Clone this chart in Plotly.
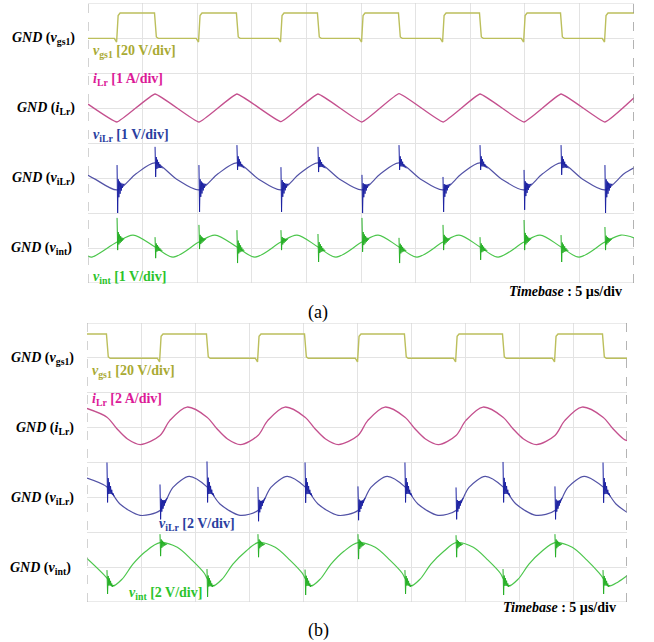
import numpy as np
import plotly.graph_objects as go

# ---------------- panel (a): 1 A/div, 1 V/div ----------------
A_RISE = [2.66, 10.16, 17.67, 25.09, 32.51, 39.93, 47.34]          # v_gs1 rising edges (µs)
A_FALL = [6.14, 13.64, 21.06, 28.48, 35.90, 43.32]                 # v_gs1 falling edges (µs)
A_VGS_HIGH, A_VGS_LOW, A_VGS_DIP = 14.3, -0.2, -2.3                # V

A_ILR_T = [0.0, 2.66, 6.14, 10.16, 13.64, 17.67, 21.06, 25.09, 28.48, 32.51, 35.90,
           39.93, 43.32, 47.34, 50.0]
A_ILR_V = [0.11, -0.40, 0.40, -0.40, 0.40, -0.39, 0.40, -0.40, 0.41, -0.40, 0.40,
           -0.40, 0.40, -0.40, 0.29]                                # A

A_VLR_T = [0.0, 0.69, 2.66, 4.40, 6.14, 8.15, 10.16, 11.90, 13.64, 15.66, 17.67, 19.37,
           21.06, 23.08, 25.09, 26.79, 28.48, 30.50, 32.51, 34.21, 35.90, 37.92, 39.93,
           41.63, 43.32, 45.33, 47.34, 49.08, 50.0]
A_VLR_V = [0.08, -0.04, -0.34, 0.12, 0.43, -0.04, -0.34, 0.12, 0.43, -0.04, -0.34, 0.12,
           0.43, -0.04, -0.34, 0.12, 0.43, -0.04, -0.34, 0.12, 0.43, -0.04, -0.34,
           0.12, 0.43, -0.04, -0.34, 0.12, 0.29]                    # V

A_VINT_T = [0.0, 0.36, 2.66, 4.13, 6.14, 7.79, 10.16, 11.63, 13.64, 15.29, 17.67, 19.14,
            21.06, 22.71, 25.09, 26.56, 28.48, 30.13, 32.51, 33.98, 35.90, 37.55, 39.93,
            41.40, 43.32, 44.97, 47.34, 48.81, 50.0]
A_VINT_V = [-0.23, -0.26, 0.17, 0.37, 0.03, -0.26, 0.17, 0.37, 0.03, -0.26, 0.17, 0.37,
            0.03, -0.26, 0.17, 0.37, 0.03, -0.26, 0.17, 0.37, 0.03, -0.26, 0.17,
            0.37, 0.03, -0.26, 0.17, 0.37, 0.29]                    # V

# switching spikes: peak / trough of each spike (V)
A_VLR_SPK_RISE_TOP = [0.37, 0.37, 0.31, 0.09, 0.03, 0.23, 0.37]
A_VLR_SPK_RISE_BOT = [-1.00, -0.97, -0.97, -1.00, -0.97, -0.91, -1.00]
A_VLR_SPK_FALL_TOP = [0.89, 0.94, 0.89, 0.94, 0.94, 0.94]
A_VLR_SPK_FALL_BOT = [0.03, 0.23, 0.17, 0.23, 0.23, 0.09]
A_VINT_SPK_RISE_TOP = [0.86, 0.66, 0.51, 0.86, 0.66, 0.80, 0.60]
A_VINT_SPK_RISE_BOT = [-0.06, -0.03, -0.06, -0.11, -0.06, -0.06, -0.06]
A_VINT_SPK_FALL_TOP = [0.31, 0.51, 0.40, 0.29, 0.31, 0.37]
A_VINT_SPK_FALL_BOT = [-0.29, -0.43, -0.40, -0.43, -0.34, -0.40]

# ---------------- panel (b): 2 A/div, 2 V/div ----------------
B_RISE = [6.76, 15.83, 25.09, 34.17, 43.33]
B_FALL = [1.85, 11.11, 20.19, 29.44, 38.52, 47.78]
B_VGS_HIGH, B_VGS_LOW, B_VGS_DIP = 13.7, -0.2, -2.3

B_ILR_T = [0.0, 1.85, 2.75, 3.75, 4.95, 6.76, 7.66, 9.26, 11.11, 12.01, 13.01, 14.21,
           15.83, 16.73, 18.33, 20.19, 21.09, 22.09, 23.29, 25.09, 25.99, 27.59, 29.44,
           30.34, 31.34, 32.54, 34.17, 35.07, 36.67, 38.52, 39.42, 40.42, 41.62, 43.33,
           44.23, 45.83, 47.78, 48.68, 49.68, 50.0]
B_ILR_V = [1.10, 0.60, -0.05, -0.65, -0.97, -0.45, 0.40, 1.18, 0.60, -0.05, -0.65, -0.97,
           -0.45, 0.40, 1.18, 0.60, -0.05, -0.65, -0.97, -0.45, 0.40, 1.18, 0.60,
           -0.05, -0.65, -0.97, -0.45, 0.40, 1.18, 0.60, -0.05, -0.65, -0.97, -0.45,
           0.40, 1.18, 0.60, -0.05, -0.65, -0.75]

B_VLR_T = [0.0, 1.85, 3.05, 4.91, 6.76, 7.96, 9.46, 11.11, 12.31, 14.17, 15.83, 17.03,
           18.53, 20.19, 21.39, 23.25, 25.09, 26.29, 27.79, 29.44, 30.64, 32.50, 34.17,
           35.37, 36.87, 38.52, 39.72, 41.58, 43.33, 44.53, 46.03, 47.78, 48.98, 50.0]
B_VLR_V = [1.10, 0.60, -0.38, -1.03, -0.75, 0.57, 1.20, 0.60, -0.38, -1.03, -0.75, 0.57,
           1.20, 0.60, -0.38, -1.03, -0.75, 0.57, 1.20, 0.60, -0.38, -1.03, -0.75,
           0.57, 1.20, 0.60, -0.38, -1.03, -0.75, 0.57, 1.20, 0.60, -0.38, -0.86]

B_VINT_T = [0.0, 1.85, 2.35, 3.25, 4.25, 5.45, 6.76, 8.36, 9.72, 10.86, 11.11, 11.61,
            12.51, 13.51, 14.71, 15.83, 17.43, 18.79, 19.93, 20.19, 20.69, 21.59, 22.59,
            23.79, 25.09, 26.69, 28.05, 29.19, 29.44, 29.94, 30.84, 31.84, 33.04, 34.17,
            35.77, 37.13, 38.27, 38.52, 39.02, 39.92, 40.92, 42.12, 43.33, 44.93, 46.29,
            47.43, 47.78, 48.28, 49.18, 50.0]
B_VINT_V = [0.50, -0.63, -1.09, -0.69, 0.17, 0.91, 1.40, 1.14, 0.40, -0.35, -0.63, -1.09,
            -0.69, 0.17, 0.91, 1.40, 1.14, 0.40, -0.35, -0.63, -1.09, -0.69, 0.17,
            0.91, 1.40, 1.14, 0.40, -0.35, -0.63, -1.09, -0.69, 0.17, 0.91, 1.40,
            1.14, 0.40, -0.35, -0.63, -1.09, -0.69, 0.17, 0.91, 1.40, 1.14, 0.40,
            -0.35, -0.63, -1.09, -0.85, -0.50]

B_VLR_SPK_RISE_TOP = [0.74, 0.60, 0.63, 0.57, 0.63]
B_VLR_SPK_RISE_BOT = [-1.26, -1.37, -1.31, -1.26, -1.26]
B_VLR_SPK_FALL_TOP = [2.00, 2.06, 2.00, 2.00, 2.03, 2.00]
B_VLR_SPK_FALL_BOT = [-0.29, -0.29, -0.31, -0.29, -0.29, -0.31]
B_VINT_SPK_RISE_TOP = [1.89, 1.89, 1.89, 1.83, 1.89]
B_VINT_SPK_RISE_BOT = [0.63, 0.57, 0.46, 0.57, 0.57]
B_VINT_SPK_FALL_TOP = [-0.17, -0.11, -0.14, -0.17, -0.11, -0.17]
B_VINT_SPK_FALL_BOT = [-1.54, -1.71, -1.60, -1.54, -1.60, -1.54]

# channel scale (units/div) and ground position (div) on the 8-div screen
A_SCALE = {"vgs": 20, "ilr": 1, "vlr": 1, "vint": 1}
B_SCALE = {"vgs": 20, "ilr": 2, "vlr": 2, "vint": 2}
GND_DIV = {"vgs": 7, "ilr": 5, "vlr": 3, "vint": 1}

# ringing after a switching spike, relative to spike excursion
RING = [1.0, -1.0, 0.4, -0.36, 0.28, -0.25, 0.19, -0.16, 0.11, -0.09, 0.05, -0.03, 0.0]
RING_STEP = 0.055  # µs

FONT = "Liberation Serif, Times New Roman, serif"
C_VGS_LINE, C_VGS_TXT = "#bcbf5c", "#a9aa33"
C_ILR_LINE, C_ILR_TXT = "#c4508e", "#dc1a98"
C_VLR_LINE, C_VLR_SPK, C_VLR_TXT = "#5252a6", "#1c22a2", "#2a40a0"
C_VINT_LINE, C_VINT_SPK, C_VINT_TXT = "#4cc64c", "#26b026", "#2cc42c"


def gate_wave(rises, falls, high, low, dip, start_high):
    ev = sorted([(t, 1) for t in rises] + [(t, 0) for t in falls])
    xs, ys = [0.0], [high if start_high else low]
    level = ys[0]
    for t, up in ev:
        if up:
            xs += [t - 0.25, t - 0.04, t + 0.1, t + 0.28]
            ys += [low, dip, high * 0.9, high]
            level = high
        else:
            xs += [t - 0.05, t + 0.12, t + 0.3]
            ys += [high, low + 0.8, low]
            level = low
    xs.append(50.0)
    ys.append(level)
    return xs, ys


def spikes(times, tops, bots, kt, kv):
    xs, ys = [], []
    for t, top, bot in zip(times, tops, bots):
        for i, f in enumerate(RING):
            tt = t + i * RING_STEP
            base = float(np.interp(t if i < 2 else tt, kt, kv))
            v = base + f * ((top - base) if f > 0 else (base - bot))
            xs.append(tt)
            ys.append(v)
        xs.append(None)
        ys.append(None)
    return xs, ys


def to_screen(vals, ch, scale):
    return [None if v is None else GND_DIV[ch] + v / scale[ch] for v in vals]


fig = go.Figure()


def add_panel(xa, ya, rises, falls, gate, ilr, vlr, vint, spk, scale, ilr_smooth):
    gx, gy = gate_wave(rises, falls, *gate)
    fig.add_trace(go.Scatter(x=gx, y=to_screen(gy, "vgs", scale), mode="lines",
                             line=dict(color=C_VGS_LINE, width=1.4), xaxis=xa, yaxis=ya))
    fig.add_trace(go.Scatter(x=ilr[0], y=to_screen(ilr[1], "ilr", scale), mode="lines",
                             line=dict(color=C_ILR_LINE, width=1.3, shape="spline", smoothing=ilr_smooth),
                             xaxis=xa, yaxis=ya))
    fig.add_trace(go.Scatter(x=vlr[0], y=to_screen(vlr[1], "vlr", scale), mode="lines",
                             line=dict(color=C_VLR_LINE, width=1.2, shape="spline", smoothing=0.8),
                             xaxis=xa, yaxis=ya))
    fig.add_trace(go.Scatter(x=vint[0], y=to_screen(vint[1], "vint", scale), mode="lines",
                             line=dict(color=C_VINT_LINE, width=1.2, shape="spline", smoothing=0.9),
                             xaxis=xa, yaxis=ya))
    (vr_t, vr_b, vf_t, vf_b, ir_t, ir_b, if_t, if_b) = spk
    for times, tops, bots, knots, ch, col in [
        (rises, vr_t, vr_b, vlr, "vlr", C_VLR_SPK), (falls, vf_t, vf_b, vlr, "vlr", C_VLR_SPK),
        (rises, ir_t, ir_b, vint, "vint", C_VINT_SPK), (falls, if_t, if_b, vint, "vint", C_VINT_SPK)]:
        sx, sy = spikes(times, tops, bots, knots[0], knots[1])
        fig.add_trace(go.Scatter(x=sx, y=to_screen(sy, ch, scale), mode="lines",
                                 line=dict(color=col, width=1.0), connectgaps=False,
                                 xaxis=xa, yaxis=ya))


add_panel("x", "y", A_RISE, A_FALL, (A_VGS_HIGH, A_VGS_LOW, A_VGS_DIP, False),
          (A_ILR_T, A_ILR_V), (A_VLR_T, A_VLR_V), (A_VINT_T, A_VINT_V),
          (A_VLR_SPK_RISE_TOP, A_VLR_SPK_RISE_BOT, A_VLR_SPK_FALL_TOP, A_VLR_SPK_FALL_BOT,
           A_VINT_SPK_RISE_TOP, A_VINT_SPK_RISE_BOT, A_VINT_SPK_FALL_TOP, A_VINT_SPK_FALL_BOT),
          A_SCALE, 0.3)
add_panel("x2", "y2", B_RISE, B_FALL, (B_VGS_HIGH, B_VGS_LOW, B_VGS_DIP, True),
          (B_ILR_T, B_ILR_V), (B_VLR_T, B_VLR_V), (B_VINT_T, B_VINT_V),
          (B_VLR_SPK_RISE_TOP, B_VLR_SPK_RISE_BOT, B_VLR_SPK_FALL_TOP, B_VLR_SPK_FALL_BOT,
           B_VINT_SPK_RISE_TOP, B_VINT_SPK_RISE_BOT, B_VINT_SPK_FALL_TOP, B_VINT_SPK_FALL_BOT),
          B_SCALE, 0.9)

W, H = 654, 642
GRID = "#e3e3e3"


def xax(x0, x1, anchor):
    return dict(domain=[x0 / W, x1 / W], range=[0, 50], tickvals=[5, 10, 15, 20, 25, 30, 35, 40, 45],
                showgrid=True, gridcolor=GRID, gridwidth=1, showticklabels=False, ticks="",
                zeroline=False, showline=False, anchor=anchor)


def yax(top, bot, anchor):
    return dict(domain=[(H - bot) / H, (H - top) / H], range=[0, 8], tickvals=[1, 2, 3, 4, 5, 6, 7],
                showgrid=True, gridcolor=GRID, gridwidth=1, showticklabels=False, ticks="",
                zeroline=False, showline=False, anchor=anchor)


shapes = []
for xr, yr in [("x", "y"), ("x2", "y2")]:
    shapes += [
        dict(type="line", xref=xr, yref=yr, x0=0, x1=50, y0=8, y1=8, line=dict(color="#d6d6d6", width=1.2)),
        dict(type="line", xref=xr, yref=yr, x0=0, x1=50, y0=0, y1=0, line=dict(color="#d6d6d6", width=1.2)),
        dict(type="line", xref=xr, yref=yr, x0=0, x1=0, y0=0, y1=8, line=dict(color="#a8a8a8", width=1, dash="dash")),
        dict(type="line", xref=xr, yref=yr, x0=50, x1=50, y0=0, y1=8, line=dict(color="#8c8c8c", width=1.3, dash="dash")),
    ]
    for ch in ["vgs", "ilr", "vlr", "vint"]:
        g = GND_DIV[ch]
        for (px0, px1, py) in [(-8, 0, 0), (-10, -4, -3), (-9, -5, -5), (-8, -6, -7)]:
            shapes.append(dict(type="line", xref=xr, yref=yr, xsizemode="pixel", ysizemode="pixel",
                               xanchor=0, yanchor=g, x0=px0, x1=px1, y0=py, y1=py,
                               line=dict(color="#333333", width=1)))
        shapes.append(dict(type="line", xref=xr, yref=yr, xsizemode="pixel", ysizemode="pixel",
                           xanchor=0, yanchor=g, x0=-7, x1=-7, y0=0, y1=-3,
                           line=dict(color="#333333", width=1)))

GND_TXT = {"vgs": "<b><i>GND</i> (<i>v</i><sub>gs1</sub>)</b>",
           "ilr": "<b><i>GND</i> (<i>i</i><sub>Lr</sub>)</b>",
           "vlr": "<b><i>GND</i> (<i>v</i><sub>iLr</sub>)</b>",
           "vint": "<b><i>GND</i> (<i>v</i><sub>int</sub>) </b>"}

ann = []
for xr, yr in [("x", "y"), ("x2", "y2")]:
    for ch, txt in GND_TXT.items():
        ann.append(dict(text=txt, xref=xr, yref=yr, x=0, y=GND_DIV[ch], xanchor="right", yanchor="middle",
                        xshift=-11, yshift=-1, showarrow=False, font=dict(family=FONT, size=14, color="black")))


def lab(text, xr, yr, x, y, color):
    ann.append(dict(text=text, xref=xr, yref=yr, x=x, y=y, xanchor="left", yanchor="middle",
                    showarrow=False, font=dict(family=FONT, size=14, color=color)))


lab("<b><i>v</i><sub>gs1</sub> [20 V/div]</b>", "x", "y", 0.25, 6.6, C_VGS_TXT)
lab("<b><i>i</i><sub>Lr</sub> [1 A/div]</b>", "x", "y", 0.25, 5.8, C_ILR_TXT)
lab("<b><i>v</i><sub>iLr</sub> [1 V/div]</b>", "x", "y", 0.25, 4.2, C_VLR_TXT)
lab("<b><i>v</i><sub>int</sub> [1 V/div]</b>", "x", "y", 0.25, 0.17, C_VINT_TXT)
lab("<b><i>v</i><sub>gs1</sub> [20 V/div]</b>", "x2", "y2", 0.25, 6.6, C_VGS_TXT)
lab("<b><i>i</i><sub>Lr</sub> [2 A/div]</b>", "x2", "y2", 0.25, 5.8, C_ILR_TXT)
lab("<b><i>v</i><sub>iLr</sub> [2 V/div]</b>", "x2", "y2", 6.5, 2.23, C_VLR_TXT)
lab("<b><i>v</i><sub>int</sub> [2 V/div]</b>", "x2", "y2", 3.7, 0.23, C_VINT_TXT)

ann.append(dict(text="<b><i>Timebase</i> : 5 µs/div</b>", xref="x domain", yref="y domain", x=0.982, y=-0.032,
                xanchor="right", yanchor="middle", showarrow=False, font=dict(family=FONT, size=14, color="black")))
ann.append(dict(text="<b><i>Timebase</i> : 5 µs/div</b>", xref="x2 domain", yref="y2 domain", x=0.983, y=-0.018,
                xanchor="right", yanchor="middle", showarrow=False, font=dict(family=FONT, size=14, color="black")))
ann.append(dict(text="(a)", xref="paper", yref="paper", x=318 / W, y=(H - 312) / H, xanchor="center",
                yanchor="middle", showarrow=False, font=dict(family=FONT, size=18, color="black")))
ann.append(dict(text="(b)", xref="paper", yref="paper", x=318 / W, y=(H - 630) / H, xanchor="center",
                yanchor="middle", showarrow=False, font=dict(family=FONT, size=18, color="black")))

fig.update_layout(
    width=W, height=H, margin=dict(l=0, r=0, t=0, b=0),
    paper_bgcolor="white", plot_bgcolor="white", showlegend=False,
    xaxis=xax(88, 634, "y"), yaxis=yax(3, 283, "x"),
    xaxis2=xax(87, 627, "y2"), yaxis2=yax(323, 602, "x2"),
    shapes=shapes, annotations=ann,
)

fig.write_html("out.html")
